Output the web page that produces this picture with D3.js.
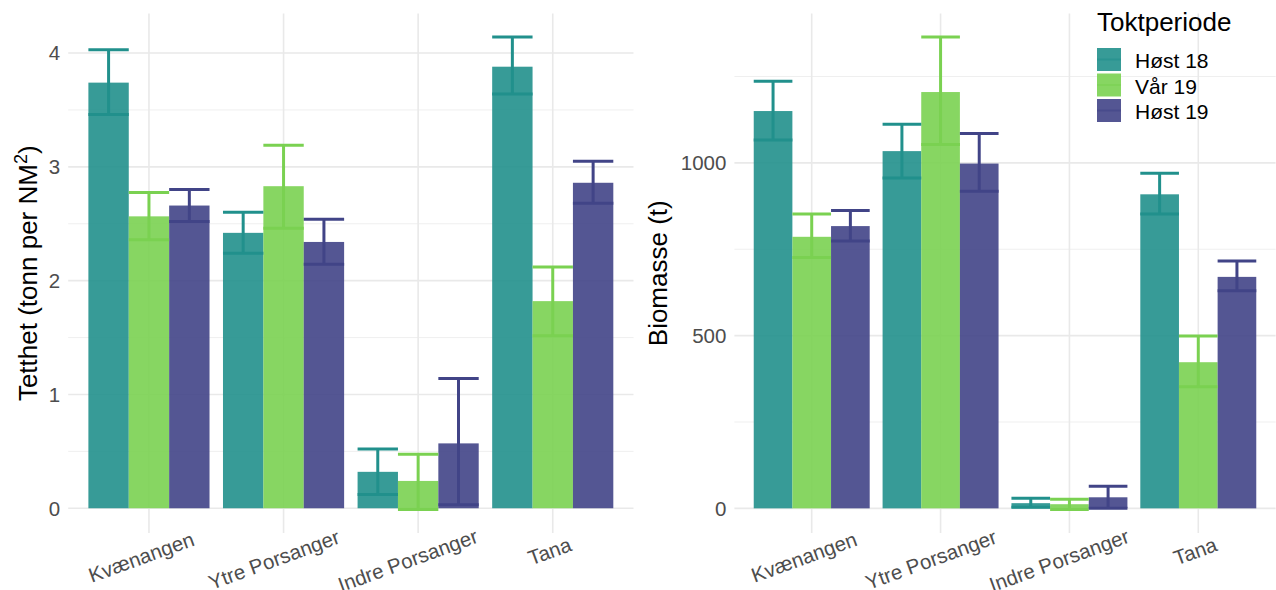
<!DOCTYPE html>
<html>
<head>
<meta charset="utf-8">
<script src="https://cdn.jsdelivr.net/npm/d3@7"></script>
<style>
  html, body { margin: 0; padding: 0; background: #ffffff; }
  svg { display: block; font-family: "Liberation Sans", Arial, sans-serif; }
</style>
</head>
<body>
<svg id="chart" width="1276" height="590"></svg>
<script>
// ---------------- data ----------------
const categories = ["Kvænangen", "Ytre Porsanger", "Indre Porsanger", "Tana"];
const series = ["Høst 18", "Vår 19", "Høst 19"];
const colors = ["#21908C", "#7AD151", "#414487"];

// Tetthet (tonn per NM²)
const tetthetHost18 = [3.74, 2.42, 0.32, 3.88];
const tetthetVar19  = [2.565, 2.83, 0.24, 1.82];
const tetthetHost19 = [2.66, 2.34, 0.57, 2.86];
const tetthetLowHost18 = [3.46, 2.24, 0.12, 3.64];
const tetthetLowVar19  = [2.36, 2.46, -0.01, 1.515];
const tetthetLowHost19 = [2.52, 2.145, 0.03, 2.68];
const tetthetHighHost18 = [4.03, 2.60, 0.52, 4.14];
const tetthetHighVar19  = [2.775, 3.19, 0.475, 2.12];
const tetthetHighHost19 = [2.80, 2.54, 1.14, 3.05];
const tetthetTicks = [0, 1, 2, 3, 4];
const tetthetMinor = [0.5, 1.5, 2.5, 3.5];

// Biomasse (t)
const biomHost18 = [1150, 1034, 15, 909];
const biomVar19  = [786, 1205, 12, 423];
const biomHost19 = [817, 998, 32, 670];
const biomLowHost18 = [1066, 956, 3, 852];
const biomLowVar19  = [726, 1053, -3, 352];
const biomLowHost19 = [774, 918, 0, 630];
const biomHighHost18 = [1236, 1112, 29, 970];
const biomHighVar19  = [852, 1364, 26, 499];
const biomHighHost19 = [862, 1085, 64, 716];
const biomTicks = [0, 500, 1000];
const biomMinor = [250, 750, 1250];

// ---------------- build ----------------
function rows(vals, lows, highs) {
  const out = [];
  categories.forEach((c, i) => {
    series.forEach((s, j) => {
      out.push({cat: c, ser: s, color: colors[j], v: vals[j][i], lo: lows[j][i], hi: highs[j][i]});
    });
  });
  return out;
}

const tetthetData = rows(
  [tetthetHost18, tetthetVar19, tetthetHost19],
  [tetthetLowHost18, tetthetLowVar19, tetthetLowHost19],
  [tetthetHighHost18, tetthetHighVar19, tetthetHighHost19]);
const biomData = rows(
  [biomHost18, biomVar19, biomHost19],
  [biomLowHost18, biomLowVar19, biomLowHost19],
  [biomHighHost18, biomHighVar19, biomHighHost19]);

const svg = d3.select("#chart");
const PTOP = 13.5, PBOT = 533;

function panel(opts) {
  const {data, x0, x1, ticks, minor, title, titleX, isLeft} = opts;
  const g = svg.append("g");

  const x = d3.scaleBand().domain(categories).range([x0, x1]).paddingInner(0.1).paddingOuter(0.15);
  const xs = d3.scaleBand().domain(series).range([0, x.bandwidth()]).padding(0);

  const lo = Math.min(0, d3.min(data, d => d.lo));
  const hi = d3.max(data, d => d.hi);
  const ex = (hi - lo) * 0.05;
  const y = d3.scaleLinear().domain([lo - ex, hi + ex]).range([PBOT, PTOP]);

  // grid
  g.selectAll(".minor").data(minor).join("line")
    .attr("x1", x0).attr("x2", x1)
    .attr("y1", d => y(d)).attr("y2", d => y(d))
    .attr("stroke", "#ededed").attr("stroke-width", 0.9);
  g.selectAll(".major").data(ticks).join("line")
    .attr("x1", x0).attr("x2", x1)
    .attr("y1", d => y(d)).attr("y2", d => y(d))
    .attr("stroke", "#e9e9e9").attr("stroke-width", 1.6);
  g.selectAll(".vgrid").data(categories).join("line")
    .attr("x1", d => x(d) + x.bandwidth() / 2).attr("x2", d => x(d) + x.bandwidth() / 2)
    .attr("y1", PTOP).attr("y2", PBOT)
    .attr("stroke", "#e9e9e9").attr("stroke-width", 1.6);

  // bars
  g.selectAll(".bar").data(data).join("rect")
    .attr("x", d => x(d.cat) + xs(d.ser))
    .attr("width", xs.bandwidth())
    .attr("y", d => Math.min(y(d.v), y(0)))
    .attr("height", d => Math.abs(y(0) - y(d.v)))
    .attr("fill", d => d.color).attr("fill-opacity", 0.9);

  // error bars
  const eb = g.selectAll(".eb").data(data).join("g")
    .attr("stroke", d => d.color).attr("stroke-width", 3).attr("fill", "none");
  eb.append("line")
    .attr("x1", d => x(d.cat) + xs(d.ser) + xs.bandwidth() / 2)
    .attr("x2", d => x(d.cat) + xs(d.ser) + xs.bandwidth() / 2)
    .attr("y1", d => y(d.lo)).attr("y2", d => y(d.hi));
  eb.append("line")
    .attr("x1", d => x(d.cat) + xs(d.ser)).attr("x2", d => x(d.cat) + xs(d.ser) + xs.bandwidth())
    .attr("y1", d => y(d.hi)).attr("y2", d => y(d.hi));
  eb.append("line")
    .attr("x1", d => x(d.cat) + xs(d.ser)).attr("x2", d => x(d.cat) + xs(d.ser) + xs.bandwidth())
    .attr("y1", d => y(d.lo)).attr("y2", d => y(d.lo));

  // y tick labels
  g.selectAll(".ytick").data(ticks).join("text")
    .attr("x", x0 - 8).attr("y", d => y(d)).attr("dy", "0.36em")
    .attr("text-anchor", "end").attr("font-size", 20.5).attr("fill", "#4d4d4d")
    .text(d => d);

  // x tick labels (rotated)
  const xt = g.selectAll(".xtick").data(categories).join("text")
    .attr("text-anchor", "middle").attr("font-size", 20.5).attr("fill", "#4d4d4d")
    .attr("dy", "0.36em")
    .text(d => d);
  xt.each(function(d) {
    const L = this.getComputedTextLength();
    const cx = x(d) + x.bandwidth() / 2 - 0.07 * L;
    const cy = 547 + 0.09 * L;
    d3.select(this).attr("transform", `translate(${cx},${cy}) rotate(-20)`);
  });

  // y axis title
  const t = g.append("text")
    .attr("transform", `translate(${titleX},${(PTOP + PBOT) / 2}) rotate(-90)`)
    .attr("text-anchor", "middle").attr("font-size", 26).attr("fill", "#000");
  if (isLeft) {
    t.append("tspan").text("Tetthet (tonn per NM");
    t.append("tspan").attr("font-size", 18).attr("dy", -10).text("2");
    t.append("tspan").attr("dy", 10).text(")");
  } else {
    t.text(title);
  }
}

panel({data: tetthetData, x0: 68.2, x1: 633.5, ticks: tetthetTicks, minor: tetthetMinor,
       title: "Tetthet (tonn per NM²)", titleX: 37, isLeft: true});
panel({data: biomData, x0: 734.4, x1: 1275.6, ticks: biomTicks, minor: biomMinor,
       title: "Biomasse (t)", titleX: 667, isLeft: false});

// legend
const lg = svg.append("g");
lg.append("text").attr("x", 1097).attr("y", 31).attr("font-size", 26).attr("fill", "#000").text("Toktperiode");
series.forEach((s, i) => {
  const ky = 48 + i * 25.5;
  lg.append("rect").attr("x", 1097).attr("y", ky).attr("width", 24).attr("height", 23)
    .attr("fill", colors[i]).attr("fill-opacity", 0.9);
  lg.append("line").attr("x1", 1097).attr("x2", 1121).attr("y1", ky + 11.5).attr("y2", ky + 11.5)
    .attr("stroke", colors[i]).attr("stroke-width", 2).attr("stroke-opacity", 0.6);
  lg.append("text").attr("x", 1135).attr("y", ky + 20).attr("font-size", 21).attr("fill", "#000").text(s);
});
</script>
</body>
</html>
